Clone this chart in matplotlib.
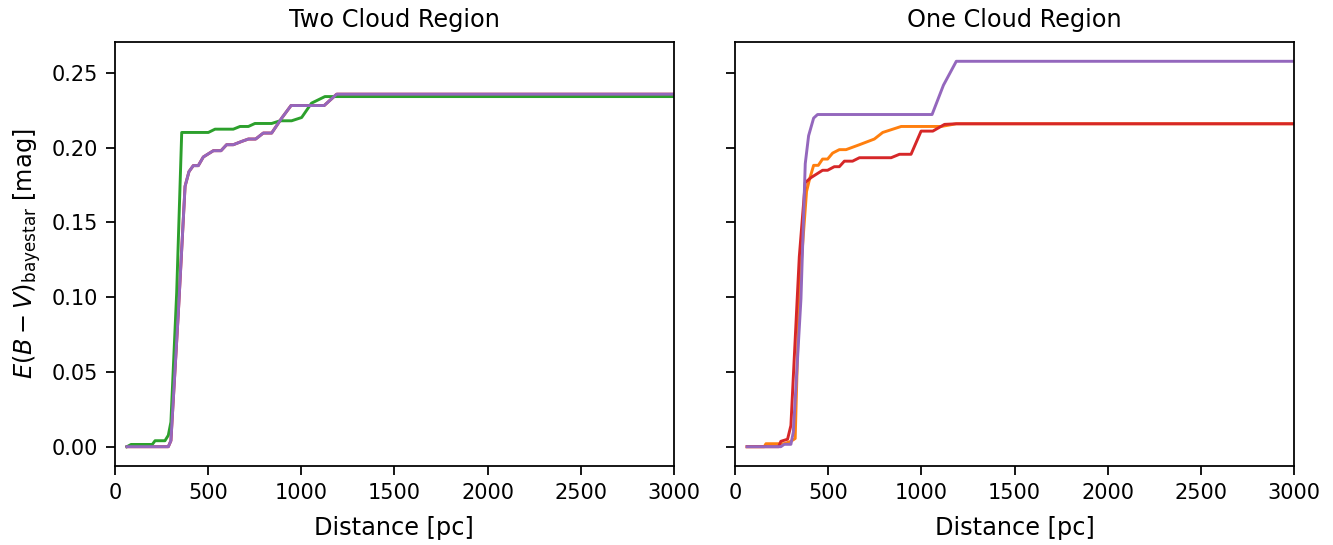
import matplotlib
matplotlib.use("Agg")
import matplotlib.pyplot as plt

# Reddening profiles along the line of sight (distance in pc, E(B-V) in mag)
two_green_d = [64, 86, 200, 215, 268, 286, 300, 331, 358, 501, 537, 635, 671, 716, 751,
               841, 886, 948, 1002, 1055, 1127, 63000]
two_green_e = [0.000, 0.0015, 0.0015, 0.0040, 0.0040, 0.0076, 0.0165, 0.103, 0.2102, 0.2102,
               0.2124, 0.2124, 0.2142, 0.2142, 0.2162, 0.2162, 0.2180, 0.2180, 0.2202, 0.2298,
               0.2342, 0.2342]

two_purple_d = [64, 286, 300, 340, 376, 397, 420, 447, 474, 528, 569, 599, 635, 680, 716, 755,
                796, 841, 895, 945, 1123, 1190, 63000]
two_purple_e = [0.000, 0.000, 0.004, 0.090, 0.1742, 0.1840, 0.1880, 0.1880, 0.1938, 0.1980,
                0.1980, 0.2020, 0.2020, 0.2042, 0.2058, 0.2058, 0.2098, 0.2098, 0.2198, 0.2282,
                0.2282, 0.2358, 0.2358]

one_orange_d = [64, 156, 165, 263, 299, 322, 344, 383, 398, 421, 446, 469, 496, 523, 559, 595,
                667, 747, 792, 891, 1106, 1187, 63000]
one_orange_e = [0.000, 0.000, 0.002, 0.002, 0.0036, 0.0055, 0.105, 0.1707, 0.1784, 0.1882,
                0.1882, 0.1924, 0.1924, 0.1964, 0.1987, 0.1987, 0.2020, 0.2058, 0.2102, 0.2142,
                0.2142, 0.2160, 0.2160]

one_red_d = [64, 233, 245, 281, 299, 344, 376, 407, 469, 496, 532, 559, 586, 630, 667, 837,
             882, 944, 998, 1061, 1124, 1187, 63000]
one_red_e = [0.000, 0.000, 0.0036, 0.0050, 0.0142, 0.127, 0.1767, 0.1800, 0.1849, 0.1849,
             0.1873, 0.1873, 0.1910, 0.1910, 0.1933, 0.1933, 0.1956, 0.1956, 0.2111, 0.2111,
             0.2156, 0.2160, 0.2160]

one_purple_d = [64, 245, 263, 299, 312, 353, 376, 394, 421, 442, 1057, 1118, 1187, 63000]
one_purple_e = [0.000, 0.000, 0.0016, 0.0016, 0.0098, 0.099, 0.1893, 0.2080, 0.2198, 0.2222,
                0.2222, 0.2418, 0.2578, 0.2578]

titles = ["Two Cloud Region", "One Cloud Region"]

plt.rcParams["axes.linewidth"] = 0.85

fig, axes = plt.subplots(1, 2, figsize=(1333 / 150, 545 / 150), dpi=150, sharey=True)
fig.subplots_adjust(left=0.0863, right=0.9707, bottom=0.145, top=0.9229, wspace=0.11)

ax = axes[0]
ax.plot(two_purple_d, two_purple_e, color="#d62728", lw=1.4)
ax.plot(two_green_d, two_green_e, color="#2ca02c", lw=1.4)
ax.plot(two_purple_d, two_purple_e, color="#9467bd", lw=1.4)

ax = axes[1]
ax.plot(one_orange_d, one_orange_e, color="#ff7f0e", lw=1.4)
ax.plot(one_red_d, one_red_e, color="#d62728", lw=1.4)
ax.plot(one_purple_d, one_purple_e, color="#9467bd", lw=1.4)

for ax, title in zip(axes, titles):
    ax.set_xlim(0, 3000)
    ax.set_title(title, fontsize=11.5, pad=7)
    ax.set_xlabel("Distance [pc]", fontsize=11.5, labelpad=6.5)
    ax.tick_params(labelsize=10, length=4.3, width=0.85, pad=3.8)

axes[0].set_ylabel(r"$E(B-V)_{\rm bayestar}$ [mag]", fontsize=11.5, labelpad=4)

fig.savefig("out.png", dpi=150)
